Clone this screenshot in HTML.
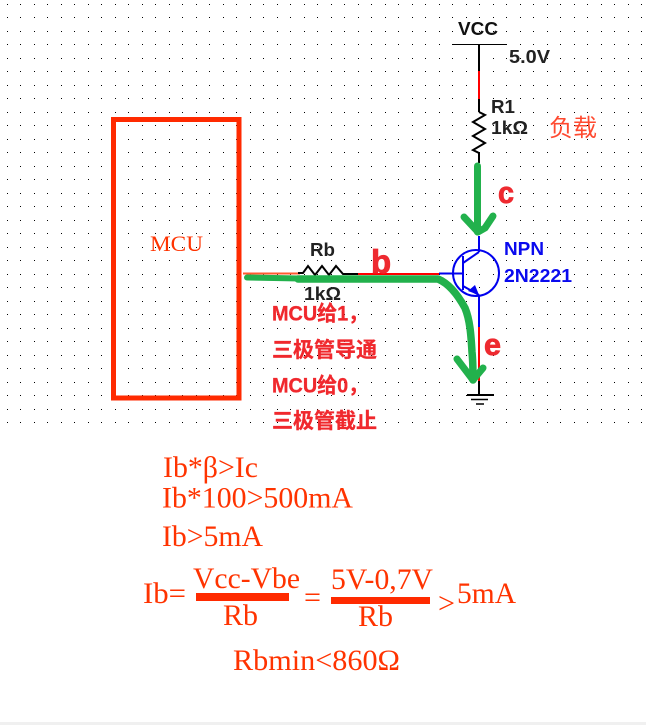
<!DOCTYPE html>
<html>
<head>
<meta charset="utf-8">
<style>
html,body{margin:0;padding:0;background:#fff;width:646px;height:725px;overflow:hidden}
svg{display:block}
.s{font-family:"Liberation Sans","Noto Sans CJK SC",sans-serif}
.b{font-weight:700}
.f{font-family:"Liberation Serif","Noto Serif CJK SC",serif;font-size:29.6px;fill:#ff3300}
.c{font-family:"Liberation Sans","Noto Sans CJK SC",sans-serif;font-weight:700;font-size:21px;fill:#f0282d;stroke:#f0282d;stroke-width:.3px}
.h{stroke:#ee2a30;stroke-width:.8px}
</style>
</head>
<body>
<svg width="646" height="725" viewBox="0 0 646 725" xmlns="http://www.w3.org/2000/svg">
<defs>
<pattern id="g" patternUnits="userSpaceOnUse" x="7" y="4" width="27" height="27">
<rect x="0" y="0" width="1" height="1" fill="#000"/>
<rect x="13" y="0" width="1" height="1" fill="#000"/>
<rect x="0" y="13" width="1" height="1" fill="#000"/>
<rect x="13" y="13" width="1" height="1" fill="#000"/>
</pattern>
</defs>
<rect width="646" height="725" fill="#fff"/>
<rect x="0" y="0" width="646" height="425" fill="url(#g)" shape-rendering="crispEdges"/>

<!-- MCU -->
<rect x="113.5" y="119.5" width="125.5" height="278.5" fill="none" stroke="#ff2a00" stroke-width="5"/>
<text x="150" y="251" textLength="53" lengthAdjust="spacingAndGlyphs" style="font-family:'Liberation Serif',serif;font-size:22px;fill:#ff3300">MCU</text>

<!-- VCC -->
<line x1="452" y1="44.5" x2="507" y2="44.5" stroke="#000" stroke-width="1"/>
<text class="s b" x="458" y="35" font-size="18.5" textLength="40" lengthAdjust="spacingAndGlyphs" fill="#111">VCC</text>
<text class="s b" x="509" y="63" font-size="18.5" textLength="41" lengthAdjust="spacingAndGlyphs" fill="#222">5.0V</text>
<line x1="479" y1="44" x2="479" y2="71" stroke="#000" stroke-width="2"/>
<line x1="479" y1="71" x2="479" y2="99" stroke="#f00" stroke-width="2"/>
<line x1="479" y1="99" x2="479" y2="112" stroke="#000" stroke-width="2"/>
<polyline points="479,112 485,115 473,122 485,129 473,136 485,143 473,150 479,153 479,163" fill="none" stroke="#000" stroke-width="2"/>
<text class="s b" x="491" y="113" font-size="18.5" textLength="24" lengthAdjust="spacingAndGlyphs" fill="#222">R1</text>
<text class="s b" x="491" y="134" font-size="18.5" textLength="37" lengthAdjust="spacingAndGlyphs" fill="#222">1kΩ</text>
<text class="s" x="549" y="136" font-size="24" textLength="48" lengthAdjust="spacingAndGlyphs" fill="#ff4a30">负载</text>

<!-- Base wiring -->
<line x1="243" y1="273.5" x2="300" y2="273.5" stroke="#ff5a30" stroke-width="2"/>
<polyline points="298,273 303,273 308,266 315,275 322,266 329,275 336,266 343,274 358,274" fill="none" stroke="#000" stroke-width="2"/>
<line x1="358" y1="274" x2="439" y2="274" stroke="#f00" stroke-width="2"/>
<line x1="439" y1="273.5" x2="463" y2="273.5" stroke="#0000ee" stroke-width="2"/>
<text class="s b" x="310" y="256" font-size="18.5" textLength="25" lengthAdjust="spacingAndGlyphs" fill="#222">Rb</text>
<text class="s b" x="304" y="300" font-size="18.5" textLength="37" lengthAdjust="spacingAndGlyphs" fill="#222">1kΩ</text>

<!-- Transistor -->
<g fill="none" stroke="#0000ee" stroke-width="2">
<circle cx="476" cy="273" r="23"/>
<line x1="479" y1="236" x2="479" y2="252"/>
<line x1="463" y1="256" x2="463" y2="290"/>
<line x1="463" y1="263" x2="479" y2="252"/>
<line x1="463" y1="286" x2="479" y2="295"/>
<line x1="479" y1="295" x2="479" y2="327"/>
</g>
<polygon points="479,295 468,291 475,285" fill="#0000ee"/>
<text class="s b" x="504" y="255" font-size="18.5" textLength="40" lengthAdjust="spacingAndGlyphs" fill="#0a0aee">NPN</text>
<text class="s b" x="504" y="282" font-size="18.5" textLength="68" lengthAdjust="spacingAndGlyphs" fill="#0a0aee">2N2221</text>

<!-- Emitter to ground -->
<line x1="479" y1="327" x2="479" y2="381" stroke="#f00" stroke-width="2"/>
<line x1="479" y1="381" x2="479" y2="395" stroke="#000" stroke-width="2"/>
<line x1="467" y1="395" x2="494" y2="395" stroke="#000" stroke-width="2"/>
<line x1="471" y1="399.5" x2="488" y2="399.5" stroke="#000" stroke-width="1.5"/>
<line x1="476" y1="404" x2="484" y2="404" stroke="#000" stroke-width="1.5"/>

<!-- Green arrows -->
<g fill="none" stroke="#22b14c" stroke-linecap="round" stroke-linejoin="round">
<line x1="477.5" y1="166" x2="477.5" y2="232" stroke-width="7"/>
<polyline points="464,217 478,232 485,228 493,216" stroke-width="7"/>
<line x1="247" y1="277.5" x2="300" y2="278.5" stroke-width="6"/>
<path d="M298 279 L438 279 C450 284 459 297 465 308 C470 320 471 335 472 352 C473 362 473 372 473 380" stroke-width="7.5"/>
<polyline points="457,359 473,380 483,368" stroke-width="7"/>
</g>

<!-- Bold letters -->
<text class="s b h" x="371" y="273" font-size="33" fill="#ee2a30">b</text>
<text class="s b h" x="498" y="203" font-size="31" textLength="16" lengthAdjust="spacingAndGlyphs" fill="#ee2a30">c</text>
<text class="s b h" x="484" y="355" font-size="31" textLength="17" lengthAdjust="spacingAndGlyphs" fill="#ee2a30">e</text>

<!-- Red notes -->
<text class="c" x="272" y="320.5" textLength="96" lengthAdjust="spacingAndGlyphs">MCU给1，</text>
<text class="c" x="272" y="357">三极管导通</text>
<text class="c" x="272" y="392.5" textLength="96" lengthAdjust="spacingAndGlyphs">MCU给0，</text>
<text class="c" x="272" y="428">三极管截止</text>

<!-- Formulas -->
<text class="f" x="163" y="477" textLength="95" lengthAdjust="spacingAndGlyphs">Ib*β&gt;Ic</text>
<text class="f" x="162" y="507.5" textLength="191" lengthAdjust="spacingAndGlyphs">Ib*100&gt;500mA</text>
<text class="f" x="162" y="546" textLength="101" lengthAdjust="spacingAndGlyphs">Ib&gt;5mA</text>
<text class="f" x="143" y="603" textLength="43" lengthAdjust="spacingAndGlyphs">Ib=</text>
<text class="f" x="193" y="588" textLength="107" lengthAdjust="spacingAndGlyphs">Vcc-Vbe</text>
<rect x="196" y="593" width="93" height="8" fill="#ff2a00"/>
<text class="f" x="223" y="625" textLength="35" lengthAdjust="spacingAndGlyphs">Rb</text>
<text class="f" x="304" y="607" textLength="17" lengthAdjust="spacingAndGlyphs">=</text>
<text class="f" x="331" y="589" textLength="102" lengthAdjust="spacingAndGlyphs">5V-0,7V</text>
<rect x="331" y="597" width="99" height="7" fill="#ff2a00"/>
<text class="f" x="358" y="626" textLength="35" lengthAdjust="spacingAndGlyphs">Rb</text>
<text class="f" x="438" y="613" textLength="17" lengthAdjust="spacingAndGlyphs">&gt;</text>
<text class="f" x="457" y="603" textLength="59" lengthAdjust="spacingAndGlyphs">5mA</text>
<text class="f" x="233" y="670" textLength="167" lengthAdjust="spacingAndGlyphs">Rbmin&lt;860Ω</text>

<!-- Bottom edge -->
<rect x="0" y="722" width="646" height="3" fill="#f0f0f0"/>
</svg>
</body>
</html>
